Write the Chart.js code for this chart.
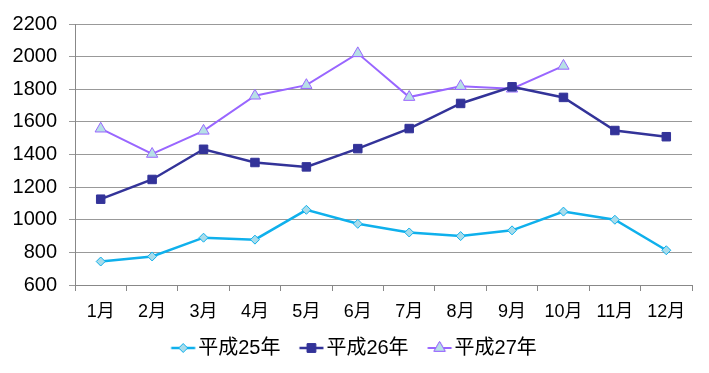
<!DOCTYPE html>
<html>
<head>
<meta charset="utf-8">
<script src="https://cdn.jsdelivr.net/npm/chart.js@4/dist/chart.umd.min.js"></script>
<style>
  html, body { margin: 0; padding: 0; background: #fff; }
  #wrap { width: 709px; height: 373px; }
</style>
</head>
<body>
<div id="wrap"><canvas id="chart"></canvas></div>
<script>
// données
const months = ['1月', '2月', '3月', '4月', '5月', '6月', '7月', '8月', '9月', '10月', '11月', '12月'];
const h25 = [744, 775, 890, 878, 1061, 975, 922, 900, 935, 1050, 1000, 813];
const h26 = [1126, 1247, 1432, 1351, 1324, 1436, 1559, 1713, 1815, 1750, 1547, 1509];
const h27 = [1558, 1403, 1545, 1760, 1825, 2020, 1752, 1819, 1803, 1943, null, null];
const seriesNames = ['平成25年', '平成26年', '平成27年'];
const yTicks = [600, 800, 1000, 1200, 1400, 1600, 1800, 2000, 2200];

const FONT = "'Liberation Sans', 'Noto Sans CJK JP', sans-serif";

// petite image ligne + marqueur pour la légende (décalée pour coller au texte)
function legendIcon(color, fill, style, radius, width) {
    const c = document.createElement('canvas');
    c.width = 48; c.height = 16;
    const ctx = c.getContext('2d');
    ctx.strokeStyle = color;
    ctx.lineWidth = width;
    ctx.beginPath();
    ctx.moveTo(15.5, 8); ctx.lineTo(39.5, 8);
    ctx.stroke();
    ctx.fillStyle = fill;
    ctx.lineWidth = 1;
    Chart.helpers.drawPoint(ctx, { pointStyle: style, radius: radius, rotation: 0, borderWidth: 1 }, 27.5, 8);
    ctx.fill();
    ctx.stroke();
    return c;
}

const styles = [
    { color: '#0FB0EC', fill: '#A8DCEB', point: 'rectRot', radius: 4.5, width: 2.5 },
    { color: '#333399', fill: '#333399', point: 'rect', radius: 6, width: 2.5 },
    { color: '#9966FF', fill: '#B6E0E6', point: 'triangle', radius: 6.5, width: 2 }
];
const values = [h25, h26, h27];

const datasets = values.map((v, i) => ({
    label: seriesNames[i],
    data: v,
    borderColor: styles[i].color,
    backgroundColor: styles[i].fill,
    pointBorderColor: styles[i].color,
    pointBackgroundColor: styles[i].fill,
    pointStyle: styles[i].point,
    pointRadius: styles[i].radius,
    pointBorderWidth: 1,
    borderWidth: styles[i].width,
    tension: 0,
    spanGaps: false
}));

// recentrer la légende sur toute la largeur du canvas
const legendShift = {
    id: 'legendShift',
    afterLayout(chart) {
        const lg = chart.legend;
        if (lg) { lg.left += 8; lg.right += 8; }
    }
};

new Chart(document.getElementById('chart').getContext('2d'), {
    type: 'line',
    data: { labels: months, datasets: datasets },
    plugins: [legendShift],
    options: {
        responsive: true,
        maintainAspectRatio: false,
        animation: false,
        layout: { padding: { left: 0, right: 17, top: 12, bottom: 5 } },
        plugins: {
            tooltip: { enabled: false },
            legend: {
                position: 'bottom',
                labels: {
                    usePointStyle: true,
                    pointStyleWidth: 17,
                    padding: 19,
                    color: '#000',
                    font: { family: FONT, size: 20 },
                    generateLabels: (chart) => chart.data.datasets.map((ds, i) => ({
                        text: ds.label,
                        pointStyle: legendIcon(styles[i].color, styles[i].fill, styles[i].point, styles[i].radius, styles[i].width),
                        fillStyle: styles[i].fill,
                        strokeStyle: styles[i].color,
                        lineWidth: 0,
                        hidden: false,
                        datasetIndex: i,
                        fontColor: '#000'
                    }))
                }
            }
        },
        scales: {
            x: {
                offset: true,
                afterFit: (s) => { s.height = 34; },
                grid: {
                    offset: true,
                    drawOnChartArea: false,
                    drawTicks: true,
                    tickLength: 6,
                    color: '#888'
                },
                border: { display: true, color: '#888', width: 1 },
                ticks: { color: '#000', padding: 10, maxRotation: 0, font: { family: FONT, size: 18 } }
            },
            y: {
                min: 600,
                max: 2200,
                afterFit: (s) => { s.width = 75; },
                afterBuildTicks: (s) => { s.ticks = yTicks.map(v => ({ value: v })); },
                grid: { color: '#999', tickLength: 6, drawTicks: true },
                border: { display: true, color: '#888', width: 1 },
                ticks: {
                    color: '#000',
                    padding: 12,
                    font: { family: FONT, size: 20 },
                    callback: (v) => String(v)
                }
            }
        }
    }
});
</script>
</body>
</html>
